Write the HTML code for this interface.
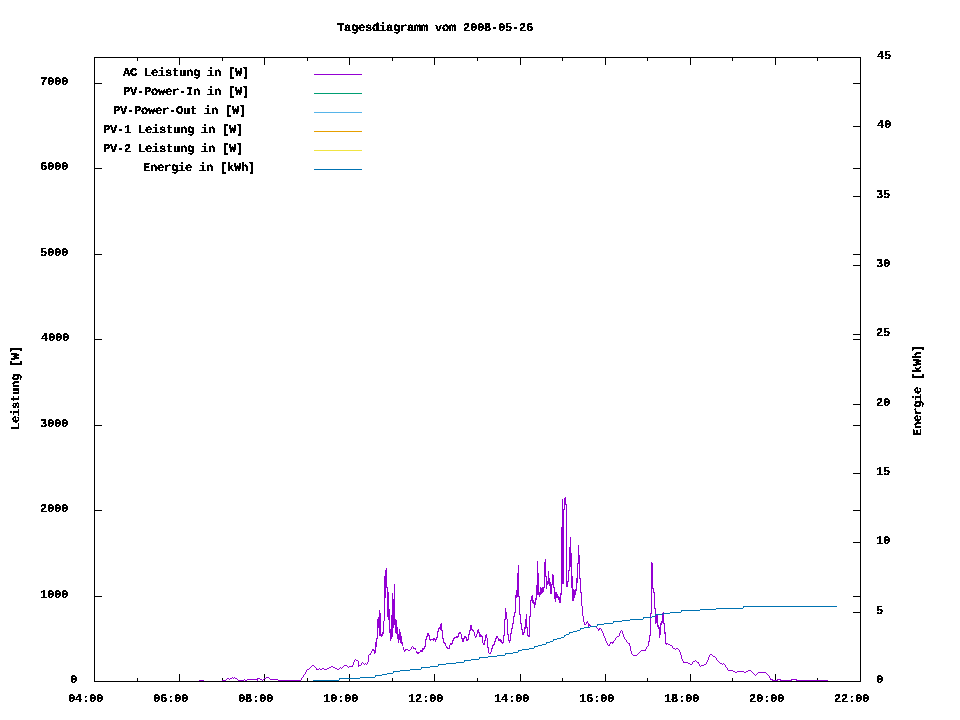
<!DOCTYPE html>
<html><head><meta charset="utf-8"><style>
html,body{margin:0;padding:0;background:#fff;}
svg{display:block;}
text{font-family:"Liberation Mono",monospace;font-weight:bold;font-size:12.0px;letter-spacing:-0.2px;fill:#000;text-rendering:geometricPrecision;}
</style></head><body>
<svg width="960" height="720" viewBox="0 0 960 720">
<rect width="960" height="720" fill="#fff"/>
<g shape-rendering="crispEdges" stroke-width="1" fill="none">
<rect x="137" y="678" width="1" height="3" fill="#000" stroke="none"/>
<rect x="137" y="58" width="1" height="3" fill="#000" stroke="none"/>
<rect x="179" y="674" width="1" height="7" fill="#000" stroke="none"/>
<rect x="179" y="58" width="1" height="7" fill="#000" stroke="none"/>
<rect x="222" y="678" width="1" height="3" fill="#000" stroke="none"/>
<rect x="222" y="58" width="1" height="3" fill="#000" stroke="none"/>
<rect x="264" y="674" width="1" height="7" fill="#000" stroke="none"/>
<rect x="264" y="58" width="1" height="7" fill="#000" stroke="none"/>
<rect x="307" y="678" width="1" height="3" fill="#000" stroke="none"/>
<rect x="307" y="58" width="1" height="3" fill="#000" stroke="none"/>
<rect x="349" y="674" width="1" height="7" fill="#000" stroke="none"/>
<rect x="349" y="58" width="1" height="7" fill="#000" stroke="none"/>
<rect x="392" y="678" width="1" height="3" fill="#000" stroke="none"/>
<rect x="392" y="58" width="1" height="3" fill="#000" stroke="none"/>
<rect x="434" y="674" width="1" height="7" fill="#000" stroke="none"/>
<rect x="434" y="58" width="1" height="7" fill="#000" stroke="none"/>
<rect x="477" y="678" width="1" height="3" fill="#000" stroke="none"/>
<rect x="477" y="58" width="1" height="3" fill="#000" stroke="none"/>
<rect x="520" y="674" width="1" height="7" fill="#000" stroke="none"/>
<rect x="520" y="58" width="1" height="7" fill="#000" stroke="none"/>
<rect x="562" y="678" width="1" height="3" fill="#000" stroke="none"/>
<rect x="562" y="58" width="1" height="3" fill="#000" stroke="none"/>
<rect x="605" y="674" width="1" height="7" fill="#000" stroke="none"/>
<rect x="605" y="58" width="1" height="7" fill="#000" stroke="none"/>
<rect x="647" y="678" width="1" height="3" fill="#000" stroke="none"/>
<rect x="647" y="58" width="1" height="3" fill="#000" stroke="none"/>
<rect x="690" y="674" width="1" height="7" fill="#000" stroke="none"/>
<rect x="690" y="58" width="1" height="7" fill="#000" stroke="none"/>
<rect x="732" y="678" width="1" height="3" fill="#000" stroke="none"/>
<rect x="732" y="58" width="1" height="3" fill="#000" stroke="none"/>
<rect x="775" y="674" width="1" height="7" fill="#000" stroke="none"/>
<rect x="775" y="58" width="1" height="7" fill="#000" stroke="none"/>
<rect x="817" y="678" width="1" height="3" fill="#000" stroke="none"/>
<rect x="817" y="58" width="1" height="3" fill="#000" stroke="none"/>
<rect x="95" y="596" width="7" height="1" fill="#000" stroke="none"/>
<rect x="853" y="596" width="7" height="1" fill="#000" stroke="none"/>
<rect x="95" y="510" width="7" height="1" fill="#000" stroke="none"/>
<rect x="853" y="510" width="7" height="1" fill="#000" stroke="none"/>
<rect x="95" y="425" width="7" height="1" fill="#000" stroke="none"/>
<rect x="853" y="425" width="7" height="1" fill="#000" stroke="none"/>
<rect x="95" y="339" width="7" height="1" fill="#000" stroke="none"/>
<rect x="853" y="339" width="7" height="1" fill="#000" stroke="none"/>
<rect x="95" y="254" width="7" height="1" fill="#000" stroke="none"/>
<rect x="853" y="254" width="7" height="1" fill="#000" stroke="none"/>
<rect x="95" y="168" width="7" height="1" fill="#000" stroke="none"/>
<rect x="853" y="168" width="7" height="1" fill="#000" stroke="none"/>
<rect x="95" y="83" width="7" height="1" fill="#000" stroke="none"/>
<rect x="853" y="83" width="7" height="1" fill="#000" stroke="none"/>
<rect x="853" y="612" width="7" height="1" fill="#000" stroke="none"/>
<rect x="853" y="542" width="7" height="1" fill="#000" stroke="none"/>
<rect x="853" y="473" width="7" height="1" fill="#000" stroke="none"/>
<rect x="853" y="404" width="7" height="1" fill="#000" stroke="none"/>
<rect x="853" y="334" width="7" height="1" fill="#000" stroke="none"/>
<rect x="853" y="265" width="7" height="1" fill="#000" stroke="none"/>
<rect x="853" y="196" width="7" height="1" fill="#000" stroke="none"/>
<rect x="853" y="126" width="7" height="1" fill="#000" stroke="none"/>
<path d="M190.5 681V682M191.5 681V682M192.5 681V682M193.5 681V682M194.5 681V682M195.5 681V682M196.5 681V682M197.5 681V682M198.5 681V682M199.5 680V681M200.5 680V681M201.5 680V681M202.5 680V681M203.5 680V681M204.5 681V682M205.5 681V682M206.5 681V682M207.5 681V682M208.5 681V682M209.5 681V682M210.5 681V682M211.5 681V682M212.5 681V682M213.5 681V682M214.5 681V682M215.5 681V682M216.5 681V682M217.5 681V682M218.5 681V682M219.5 681V682M220.5 681V682M221.5 681V682M222.5 680V681M223.5 680V681M224.5 680V681M225.5 680V681M226.5 679V680M227.5 678V679M228.5 678V679M229.5 679V680M230.5 678V679M231.5 678V679M232.5 677V678M233.5 678V679M234.5 677V678M235.5 678V679M236.5 678V679M237.5 679V680M238.5 680V681M239.5 680V681M240.5 680V681M241.5 680V681M242.5 680V681M243.5 680V681M244.5 679V680M245.5 680V681M246.5 680V681M247.5 679V680M248.5 679V680M249.5 679V680M250.5 679V680M251.5 679V680M252.5 679V680M253.5 679V680M254.5 679V680M255.5 679V680M256.5 679V680M257.5 678V681M258.5 678V679M259.5 678V679M260.5 679V680M261.5 679V680M262.5 680V681M263.5 679V680M264.5 678V679M265.5 678V679M266.5 677V678M267.5 677V678M268.5 677V678M269.5 678V679M270.5 679V680M271.5 679V680M272.5 679V680M273.5 679V680M274.5 679V680M275.5 679V680M276.5 679V680M277.5 679V680M278.5 680V681M279.5 680V681M280.5 680V681M281.5 680V681M282.5 680V681M283.5 680V681M284.5 680V681M285.5 680V681M286.5 680V681M287.5 680V681M288.5 680V681M289.5 680V681M290.5 680V681M291.5 680V681M292.5 680V681M293.5 680V681M294.5 680V681M295.5 680V681M296.5 680V681M297.5 680V681M298.5 680V681M299.5 680V681M300.5 680V681M301.5 678V680M302.5 677V678M303.5 675V677M304.5 674V675M305.5 672V674M306.5 670V672M307.5 669V670M308.5 669V670M309.5 668V669M310.5 667V668M311.5 666V667M312.5 665V666M313.5 665V666M314.5 666V667M315.5 667V668M316.5 668V670M317.5 669V670M318.5 669V670M319.5 668V669M320.5 669V670M321.5 669V670M322.5 668V669M323.5 668V669M324.5 669V670M325.5 669V670M326.5 669V670M327.5 668V669M328.5 668V669M329.5 667V668M330.5 667V668M331.5 666V667M332.5 666V667M333.5 667V668M334.5 667V668M335.5 668V669M336.5 668V669M337.5 669V670M338.5 669V670M339.5 668V669M340.5 667V668M341.5 668V669M342.5 667V668M343.5 666V667M344.5 665V666M345.5 665V666M346.5 665V666M347.5 666V667M348.5 667V668M349.5 666V667M350.5 666V667M351.5 666V667M352.5 665V667M353.5 662V665M354.5 660V662M355.5 659V660M356.5 660V661M357.5 660V661M358.5 661V667M359.5 665V666M360.5 665V666M361.5 663V665M362.5 662V663M363.5 663V664M364.5 664V665M365.5 663V664M366.5 664V665M367.5 662V664M368.5 655V662M369.5 654V655M370.5 653V655M371.5 651V653M372.5 649V651M373.5 649V651M374.5 650V654M375.5 642V653M376.5 638V647M377.5 619V639M378.5 617V628M379.5 610V636M380.5 613V636M381.5 634V637M382.5 632V636M383.5 621V634M384.5 576V621M385.5 570V598M386.5 568V588M387.5 587V617M388.5 592V620M389.5 609V633M390.5 629V641M391.5 615V639M392.5 593V637M393.5 599V628M394.5 584V625M395.5 619V633M396.5 620V634M397.5 627V639M398.5 634V643M399.5 629V640M400.5 632V643M401.5 636V644M402.5 642V646M403.5 647V650M404.5 650V652M405.5 649V651M406.5 649V650M407.5 649V650M408.5 650V651M409.5 650V651M410.5 649V650M411.5 647V649M412.5 646V647M413.5 647V649M414.5 648V649M415.5 648V650M416.5 651V653M417.5 652V654M418.5 652V654M419.5 652V653M420.5 650V652M421.5 650V652M422.5 648V652M423.5 648V650M424.5 646V649M425.5 639V647M426.5 636V640M427.5 633V637M428.5 633V636M429.5 635V640M430.5 639V641M431.5 639V640M432.5 639V640M433.5 638V641M434.5 638V640M435.5 639V642M436.5 637V640M437.5 631V638M438.5 628V632M439.5 627V629M440.5 624V630M441.5 623V631M442.5 630V639M443.5 638V643M444.5 642V644M445.5 643V646M446.5 646V648M447.5 647V649M448.5 648V649M449.5 645V649M450.5 643V645M451.5 643V645M452.5 640V644M453.5 638V641M454.5 637V639M455.5 637V638M456.5 636V638M457.5 636V638M458.5 633V637M459.5 632V634M460.5 632V634M461.5 634V639M462.5 638V642M463.5 638V642M464.5 636V639M465.5 636V638M466.5 637V641M467.5 639V641M468.5 634V640M469.5 630V635M470.5 625V631M471.5 625V630M472.5 629V631M473.5 630V632M474.5 632V636M475.5 636V638M476.5 634V637M477.5 630V634M478.5 629V633M479.5 632V637M480.5 634V637M481.5 635V637M482.5 636V643M483.5 643V645M484.5 640V645M485.5 635V641M486.5 634V638M487.5 638V648M488.5 647V653M489.5 653V654M490.5 652V654M491.5 648V652M492.5 645V649M493.5 644V646M494.5 641V645M495.5 638V642M496.5 636V639M497.5 636V638M498.5 638V641M499.5 639V641M500.5 639V642M501.5 640V643M502.5 642V644M503.5 635V643M504.5 619V636M505.5 608V620M506.5 612V619M507.5 619V635M508.5 634V641M509.5 640V643M510.5 633V641M511.5 628V634M512.5 623V629M513.5 616V624M514.5 612V617M515.5 595V613M516.5 590V598M517.5 573V597M518.5 565V597M519.5 596V615M520.5 614V624M521.5 623V630M522.5 629V635M523.5 632V635M524.5 627V633M525.5 619V629M526.5 614V628M527.5 627V636M528.5 635V637M529.5 616V637M530.5 600V617M531.5 596V601M532.5 595V603M533.5 600V604M534.5 602V608M535.5 598V605M536.5 585V600M537.5 561V595M538.5 573V595M539.5 592V597M540.5 587V595M541.5 588V594M542.5 587V593M543.5 587V592M544.5 562V588M545.5 559V577M546.5 576V589M547.5 581V585M548.5 571V584M549.5 578V586M550.5 582V594M551.5 584V594M552.5 574V585M553.5 575V588M554.5 587V599M555.5 592V602M556.5 592V598M557.5 594V598M558.5 596V600M559.5 597V603M560.5 593V603M561.5 527V595M562.5 499V584M563.5 509V584M564.5 498V510M565.5 497V505M566.5 504V587M567.5 581V587M568.5 570V582M569.5 547V571M570.5 537V567M571.5 553V588M572.5 576V601M573.5 589V601M574.5 590V598M575.5 589V595M576.5 578V591M577.5 563V583M578.5 545V564M579.5 555V579M580.5 578V593M581.5 592V606M582.5 606V616M583.5 616V622M584.5 622V625M585.5 624V625M586.5 622V624M587.5 621V623M588.5 623V627M589.5 624V626M590.5 625V627M591.5 626V627M592.5 626V627M593.5 626V627M594.5 626V627M595.5 626V627M596.5 627V628M597.5 628V629M598.5 629V631M599.5 628V630M600.5 628V629M601.5 629V631M602.5 631V633M603.5 633V636M604.5 636V638M605.5 638V641M606.5 641V643M607.5 643V645M608.5 645V646M609.5 644V646M610.5 642V644M611.5 642V643M612.5 642V644M613.5 641V643M614.5 640V641M615.5 638V640M616.5 637V638M617.5 636V637M618.5 636V637M619.5 633V636M620.5 631V633M621.5 630V631M622.5 631V634M623.5 634V637M624.5 637V639M625.5 639V640M626.5 640V642M627.5 642V643M628.5 643V644M629.5 643V646M630.5 646V651M631.5 651V654M632.5 654V655M633.5 655V656M634.5 655V656M635.5 655V656M636.5 655V656M637.5 654V655M638.5 653V654M639.5 652V653M640.5 651V652M641.5 650V651M642.5 650V651M643.5 650V651M644.5 650V651M645.5 649V651M646.5 647V649M647.5 646V647M648.5 641V646M649.5 635V642M650.5 613V636M651.5 562V614M652.5 563V589M653.5 588V593M654.5 592V609M655.5 608V624M656.5 615V623M657.5 615V627M658.5 625V629M659.5 627V638M660.5 623V635M661.5 621V625M662.5 613V623M663.5 612V624M664.5 623V634M665.5 632V644M666.5 643V645M667.5 643V644M668.5 644V645M669.5 644V645M670.5 645V646M671.5 645V646M672.5 646V648M673.5 648V649M674.5 648V649M675.5 649V650M676.5 648V649M677.5 648V649M678.5 649V650M679.5 650V652M680.5 652V655M681.5 655V659M682.5 659V661M683.5 661V663M684.5 662V663M685.5 662V663M686.5 662V663M687.5 662V663M688.5 663V664M689.5 663V664M690.5 664V665M691.5 664V665M692.5 662V664M693.5 661V662M694.5 661V662M695.5 660V661M696.5 661V662M697.5 662V663M698.5 662V664M699.5 664V666M700.5 666V667M701.5 665V666M702.5 665V666M703.5 665V666M704.5 664V665M705.5 664V665M706.5 662V664M707.5 660V662M708.5 657V660M709.5 655V657M710.5 654V655M711.5 654V655M712.5 655V656M713.5 656V657M714.5 656V657M715.5 657V658M716.5 658V660M717.5 660V661M718.5 661V662M719.5 662V663M720.5 663V664M721.5 663V664M722.5 664V665M723.5 663V664M724.5 664V665M725.5 665V667M726.5 667V668M727.5 668V670M728.5 670V671M729.5 670V671M730.5 670V671M731.5 670V671M732.5 670V671M733.5 671V672M734.5 671V672M735.5 672V673M736.5 672V673M737.5 671V672M738.5 671V672M739.5 671V672M740.5 671V672M741.5 671V672M742.5 671V672M743.5 671V672M744.5 672V673M745.5 672V673M746.5 671V672M747.5 671V672M748.5 670V671M749.5 670V671M750.5 670V671M751.5 671V672M752.5 672V673M753.5 673V674M754.5 674V675M755.5 675V676M756.5 674V675M757.5 673V674M758.5 672V673M759.5 672V673M760.5 672V673M761.5 672V673M762.5 672V673M763.5 672V673M764.5 672V673M765.5 672V673M766.5 673V674M767.5 674V675M768.5 675V676M769.5 676V678M770.5 678V680M771.5 679V680M772.5 679V681M773.5 680V681M774.5 680V681M775.5 680V681M776.5 680V681M777.5 679V681M778.5 679V680M779.5 679V680M780.5 679V681M781.5 680V681M782.5 680V681M783.5 680V681M784.5 680V681M785.5 680V681M786.5 680V681M787.5 680V681M788.5 680V681M789.5 680V681M790.5 680V681M791.5 679V681M792.5 679V680M793.5 679V680M794.5 679V680M795.5 679V680M796.5 679V681M797.5 680V681M798.5 680V681M799.5 680V681M800.5 680V681M801.5 680V681M802.5 680V681M803.5 680V681M804.5 680V681M805.5 680V681M806.5 680V681M807.5 680V681M808.5 680V681M809.5 680V681M810.5 680V681M811.5 680V681M812.5 680V681M813.5 680V681M814.5 680V681M815.5 680V681M816.5 680V681M817.5 680V681M818.5 680V681M819.5 680V681M820.5 680V681M821.5 680V681M822.5 680V681M823.5 680V681M824.5 680V681M825.5 680V681M826.5 680V681M827.5 680V681M828.5 681V682M829.5 681V682M830.5 681V682M831.5 681V682M832.5 681V682M833.5 681V682M834.5 681V682M835.5 681V682M836.5 681V682M837.5 681V682M838.5 681V682M839.5 681V682M840.5 681V682" stroke="#9400d3"/><path d="M313.5 680V681M314.5 680V681M315.5 680V681M316.5 680V681M317.5 680V681M318.5 680V681M319.5 680V681M320.5 680V681M321.5 680V681M322.5 680V681M323.5 680V681M324.5 680V681M325.5 680V681M326.5 680V681M327.5 680V681M328.5 680V681M329.5 680V681M330.5 680V681M331.5 680V681M332.5 680V681M333.5 680V681M334.5 680V681M335.5 680V681M336.5 680V681M337.5 680V681M338.5 680V681M339.5 678V680M340.5 678V679M341.5 678V679M342.5 678V679M343.5 678V679M344.5 678V679M345.5 678V679M346.5 678V679M347.5 678V679M348.5 678V679M349.5 678V679M350.5 678V679M351.5 678V679M352.5 678V679M353.5 678V679M354.5 678V679M355.5 678V679M356.5 678V679M357.5 678V679M358.5 678V679M359.5 678V679M360.5 677V678M361.5 677V678M362.5 677V678M363.5 677V678M364.5 677V678M365.5 677V678M366.5 677V678M367.5 677V678M368.5 677V678M369.5 677V678M370.5 677V678M371.5 677V678M372.5 677V678M373.5 677V678M374.5 677V678M375.5 675V677M376.5 675V676M377.5 675V676M378.5 675V676M379.5 675V676M380.5 675V676M381.5 675V676M382.5 674V675M383.5 674V675M384.5 674V675M385.5 674V675M386.5 674V675M387.5 673V674M388.5 673V674M389.5 673V674M390.5 673V674M391.5 673V674M392.5 673V674M393.5 671V673M394.5 671V672M395.5 671V672M396.5 671V672M397.5 671V672M398.5 671V672M399.5 671V672M400.5 670V671M401.5 670V671M402.5 670V671M403.5 670V671M404.5 670V671M405.5 670V671M406.5 670V671M407.5 670V671M408.5 670V671M409.5 670V671M410.5 669V670M411.5 669V670M412.5 669V670M413.5 669V670M414.5 669V670M415.5 669V670M416.5 669V670M417.5 669V670M418.5 669V670M419.5 669V670M420.5 669V670M421.5 667V669M422.5 667V668M423.5 667V668M424.5 667V668M425.5 667V668M426.5 667V668M427.5 667V668M428.5 667V668M429.5 667V668M430.5 666V667M431.5 666V667M432.5 666V667M433.5 666V667M434.5 666V667M435.5 666V667M436.5 666V667M437.5 666V667M438.5 664V666M439.5 664V665M440.5 664V665M441.5 664V665M442.5 664V665M443.5 664V665M444.5 664V665M445.5 664V665M446.5 663V664M447.5 663V664M448.5 663V664M449.5 663V664M450.5 663V664M451.5 663V664M452.5 663V664M453.5 663V664M454.5 663V664M455.5 663V664M456.5 662V663M457.5 662V663M458.5 662V663M459.5 662V663M460.5 662V663M461.5 662V663M462.5 662V663M463.5 662V663M464.5 660V662M465.5 660V661M466.5 660V661M467.5 660V661M468.5 660V661M469.5 660V661M470.5 660V661M471.5 659V660M472.5 659V660M473.5 659V660M474.5 659V660M475.5 659V660M476.5 659V660M477.5 659V660M478.5 659V660M479.5 657V659M480.5 657V658M481.5 657V658M482.5 657V658M483.5 657V658M484.5 657V658M485.5 657V658M486.5 657V658M487.5 657V658M488.5 656V657M489.5 656V657M490.5 656V657M491.5 656V657M492.5 656V657M493.5 656V657M494.5 656V657M495.5 656V657M496.5 656V657M497.5 655V656M498.5 655V656M499.5 655V656M500.5 655V656M501.5 655V656M502.5 655V656M503.5 655V656M504.5 655V656M505.5 653V655M506.5 653V654M507.5 653V654M508.5 653V654M509.5 653V654M510.5 653V654M511.5 653V654M512.5 653V654M513.5 652V653M514.5 652V653M515.5 652V653M516.5 652V653M517.5 652V653M518.5 650V652M519.5 650V651M520.5 650V651M521.5 650V651M522.5 649V650M523.5 649V650M524.5 649V650M525.5 649V650M526.5 649V650M527.5 649V650M528.5 649V650M529.5 648V649M530.5 648V649M531.5 648V649M532.5 648V649M533.5 648V649M534.5 646V648M535.5 646V647M536.5 646V647M537.5 646V647M538.5 645V646M539.5 645V646M540.5 645V646M541.5 645V646M542.5 644V645M543.5 644V645M544.5 644V645M545.5 644V645M546.5 642V644M547.5 642V643M548.5 642V643M549.5 642V643M550.5 641V642M551.5 641V642M552.5 641V642M553.5 639V641M554.5 639V640M555.5 639V640M556.5 639V640M557.5 638V639M558.5 638V639M559.5 638V639M560.5 638V639M561.5 637V638M562.5 637V638M563.5 637V638M564.5 635V637M565.5 635V636M566.5 634V635M567.5 634V635M568.5 634V635M569.5 632V634M570.5 632V633M571.5 632V633M572.5 632V633M573.5 631V632M574.5 631V632M575.5 631V632M576.5 631V632M577.5 630V631M578.5 630V631M579.5 630V631M580.5 628V630M581.5 628V629M582.5 628V629M583.5 628V629M584.5 627V628M585.5 627V628M586.5 627V628M587.5 627V628M588.5 627V628M589.5 627V628M590.5 626V627M591.5 626V627M592.5 626V627M593.5 626V627M594.5 626V627M595.5 626V627M596.5 626V627M597.5 624V626M598.5 624V625M599.5 624V625M600.5 624V625M601.5 624V625M602.5 624V625M603.5 624V625M604.5 623V624M605.5 623V624M606.5 623V624M607.5 623V624M608.5 623V624M609.5 623V624M610.5 623V624M611.5 623V624M612.5 623V624M613.5 621V623M614.5 621V622M615.5 621V622M616.5 621V622M617.5 621V622M618.5 621V622M619.5 621V622M620.5 621V622M621.5 621V622M622.5 620V621M623.5 620V621M624.5 620V621M625.5 620V621M626.5 620V621M627.5 620V621M628.5 620V621M629.5 620V621M630.5 619V620M631.5 619V620M632.5 619V620M633.5 619V620M634.5 619V620M635.5 619V620M636.5 619V620M637.5 619V620M638.5 619V620M639.5 619V620M640.5 619V620M641.5 619V620M642.5 619V620M643.5 617V619M644.5 617V618M645.5 617V618M646.5 617V618M647.5 617V618M648.5 617V618M649.5 617V618M650.5 617V618M651.5 617V618M652.5 616V617M653.5 616V617M654.5 616V617M655.5 614V616M656.5 614V615M657.5 614V615M658.5 614V615M659.5 614V615M660.5 614V615M661.5 614V615M662.5 614V615M663.5 613V614M664.5 613V614M665.5 613V614M666.5 613V614M667.5 613V614M668.5 613V614M669.5 613V614M670.5 612V613M671.5 612V613M672.5 612V613M673.5 612V613M674.5 612V613M675.5 612V613M676.5 612V613M677.5 612V613M678.5 612V613M679.5 612V613M680.5 612V613M681.5 610V612M682.5 610V611M683.5 610V611M684.5 610V611M685.5 610V611M686.5 610V611M687.5 610V611M688.5 610V611M689.5 610V611M690.5 610V611M691.5 610V611M692.5 610V611M693.5 610V611M694.5 610V611M695.5 610V611M696.5 610V611M697.5 610V611M698.5 610V611M699.5 610V611M700.5 609V610M701.5 609V610M702.5 609V610M703.5 609V610M704.5 609V610M705.5 609V610M706.5 609V610M707.5 609V610M708.5 609V610M709.5 609V610M710.5 609V610M711.5 609V610M712.5 609V610M713.5 609V610M714.5 609V610M715.5 609V610M716.5 608V609M717.5 608V609M718.5 608V609M719.5 608V609M720.5 608V609M721.5 608V609M722.5 608V609M723.5 608V609M724.5 608V609M725.5 608V609M726.5 608V609M727.5 608V609M728.5 608V609M729.5 608V609M730.5 608V609M731.5 608V609M732.5 608V609M733.5 608V609M734.5 608V609M735.5 608V609M736.5 608V609M737.5 608V609M738.5 608V609M739.5 608V609M740.5 608V609M741.5 608V609M742.5 608V609M743.5 606V608M744.5 606V607M745.5 606V607M746.5 606V607M747.5 606V607M748.5 606V607M749.5 606V607M750.5 606V607M751.5 606V607M752.5 606V607M753.5 606V607M754.5 606V607M755.5 606V607M756.5 606V607M757.5 606V607M758.5 606V607M759.5 606V607M760.5 606V607M761.5 606V607M762.5 606V607M763.5 606V607M764.5 606V607M765.5 606V607M766.5 606V607M767.5 606V607M768.5 606V607M769.5 606V607M770.5 606V607M771.5 606V607M772.5 606V607M773.5 606V607M774.5 606V607M775.5 606V607M776.5 606V607M777.5 606V607M778.5 606V607M779.5 606V607M780.5 606V607M781.5 606V607M782.5 606V607M783.5 606V607M784.5 606V607M785.5 606V607M786.5 606V607M787.5 606V607M788.5 606V607M789.5 606V607M790.5 606V607M791.5 606V607M792.5 606V607M793.5 606V607M794.5 606V607M795.5 606V607M796.5 606V607M797.5 606V607M798.5 606V607M799.5 606V607M800.5 606V607M801.5 606V607M802.5 606V607M803.5 606V607M804.5 606V607M805.5 606V607M806.5 606V607M807.5 606V607M808.5 606V607M809.5 606V607M810.5 606V607M811.5 606V607M812.5 606V607M813.5 606V607M814.5 606V607M815.5 606V607M816.5 606V607M817.5 606V607M818.5 606V607M819.5 606V607M820.5 606V607M821.5 606V607M822.5 606V607M823.5 606V607M824.5 606V607M825.5 606V607M826.5 606V607M827.5 606V607M828.5 606V607M829.5 606V607M830.5 606V607M831.5 606V607M832.5 606V607M833.5 606V607M834.5 606V607M835.5 606V607M836.5 606V607" stroke="#0072b2"/>
<rect x="94.5" y="57.5" width="766" height="624" fill="none" stroke="#000"/>
</g>
<defs><filter id="th" x="0" y="0" width="100%" height="100%" color-interpolation-filters="sRGB"><feComponentTransfer><feFuncA type="discrete" tableValues="0 0 0 1 1 1 1 1 1 1"/></feComponentTransfer></filter></defs>
<g shape-rendering="crispEdges" filter="url(#th)">
<text transform="translate(337,31) scale(1,1.0)">Tagesdiagramm vom 2008-05-26</text>
<text transform="translate(70,683) scale(1,1.0)">0</text>
<text transform="translate(40,598) scale(1,1.0)">1000</text>
<text transform="translate(40,512) scale(1,1.0)">2000</text>
<text transform="translate(40,427) scale(1,1.0)">3000</text>
<text transform="translate(41,341) scale(1,1.0)">4000</text>
<text transform="translate(40,256) scale(1,1.0)">5000</text>
<text transform="translate(40,170) scale(1,1.0)">6000</text>
<text transform="translate(40,85) scale(1,1.0)">7000</text>
<text transform="translate(876,683) scale(1,1.0)">0</text>
<text transform="translate(876,614) scale(1,1.0)">5</text>
<text transform="translate(876,544) scale(1,1.0)">10</text>
<text transform="translate(876,475) scale(1,1.0)">15</text>
<text transform="translate(876,406) scale(1,1.0)">20</text>
<text transform="translate(876,336) scale(1,1.0)">25</text>
<text transform="translate(876,267) scale(1,1.0)">30</text>
<text transform="translate(876,198) scale(1,1.0)">35</text>
<text transform="translate(877,128) scale(1,1.0)">40</text>
<text transform="translate(877,59) scale(1,1.0)">45</text>
<text transform="translate(68,702) scale(1,1.0)">04:00</text>
<text transform="translate(153,702) scale(1,1.0)">06:00</text>
<text transform="translate(238,702) scale(1,1.0)">08:00</text>
<text transform="translate(323,702) scale(1,1.0)">10:00</text>
<text transform="translate(408,702) scale(1,1.0)">12:00</text>
<text transform="translate(494,702) scale(1,1.0)">14:00</text>
<text transform="translate(579,702) scale(1,1.0)">16:00</text>
<text transform="translate(664,702) scale(1,1.0)">18:00</text>
<text transform="translate(749,702) scale(1,1.0)">20:00</text>
<text transform="translate(834,702) scale(1,1.0)">22:00</text>
<text transform="translate(123,76) scale(1,1.0)">AC Leistung in [W]</text>
<line x1="314" y1="74.5" x2="362" y2="74.5" stroke="#9400d3"/>
<text transform="translate(123,95) scale(1,1.0)">PV-Power-In in [W]</text>
<line x1="314" y1="93.5" x2="362" y2="93.5" stroke="#009e73"/>
<text transform="translate(113,114) scale(1,1.0)">PV-Power-Out in [W]</text>
<line x1="314" y1="112.5" x2="362" y2="112.5" stroke="#56b4e9"/>
<text transform="translate(103,133) scale(1,1.0)">PV-1 Leistung in [W]</text>
<line x1="314" y1="131.5" x2="362" y2="131.5" stroke="#e69f00"/>
<text transform="translate(103,152) scale(1,1.0)">PV-2 Leistung in [W]</text>
<line x1="314" y1="150.5" x2="362" y2="150.5" stroke="#f0e442"/>
<text transform="translate(143,171) scale(1,1.0)">Energie in [kWh]</text>
<line x1="314" y1="169.5" x2="362" y2="169.5" stroke="#0072b2"/>
<text transform="translate(19,430) rotate(-90) scale(1,1.0)">Leistung [W]</text>
<text transform="translate(921,436) rotate(-90) scale(1,1.0)">Energie [kWh]</text>
</g>
</svg>
</body></html>
